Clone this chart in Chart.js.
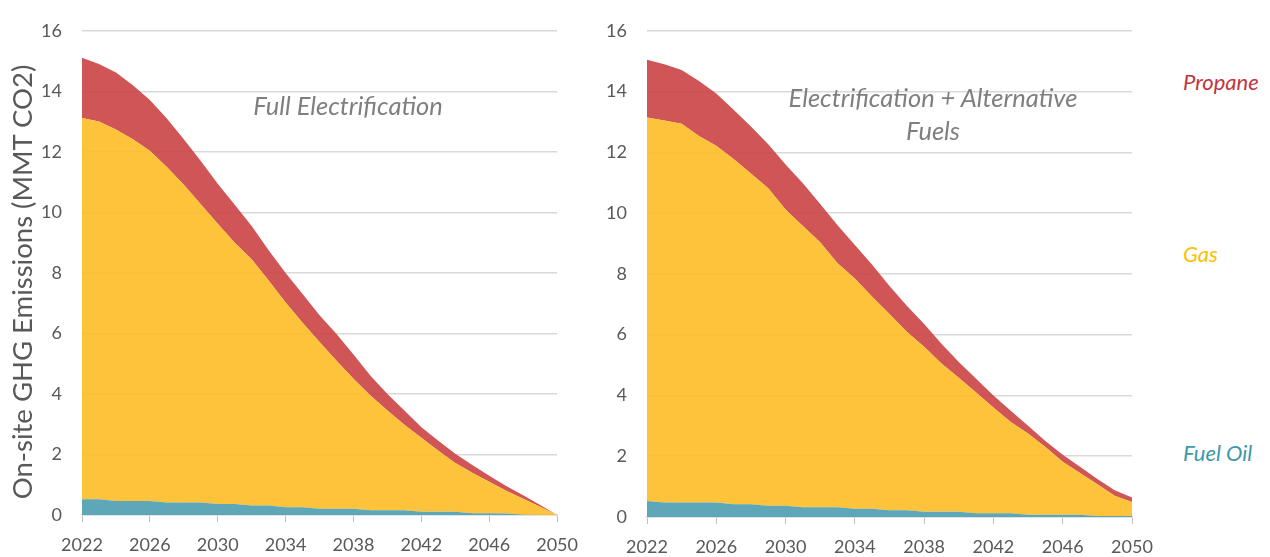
<!DOCTYPE html>
<html>
<head>
<meta charset="utf-8">
<script src="https://cdn.jsdelivr.net/npm/chart.js@4.4.0/dist/chart.umd.min.js"></script>
<style>
    body { margin: 0; width: 1270px; height: 557px; background: #fff; position: relative; overflow: hidden; font-family: Lato, "Open Sans", sans-serif; }
    .box { position: absolute; top: 0; height: 557px; }
    #leftBox { left: 0; width: 590px; }
    #rightBox { left: 590px; width: 580px; }
    .note { position: absolute; font-style: italic; color: #7f7f7f; font-size: 25.5px; line-height: 33px; text-align: center; }
    .lbl { position: absolute; left: 1183px; font-style: italic; font-size: 22px; line-height: 24px; }
    #yTitle { position: absolute; left: -208px; top: 266px; width: 460px; height: 32px; line-height: 32px;
              text-align: center; font-size: 27.5px; color: #595959; transform: rotate(-90deg); white-space: nowrap; }
</style>
</head>
<body>
<div class="box" id="leftBox"><canvas id="leftChart" width="590" height="557"></canvas></div>
<div class="box" id="rightBox"><canvas id="rightChart" width="580" height="557"></canvas></div>

<div id="yTitle">On-site GHG Emissions (MMT CO2)</div>
<div class="note" style="left:198px; top:89px; width:300px;">Full Electrification</div>
<div class="note" style="left:733px; top:81px; width:400px;">Electrification + Alternative<br>Fuels</div>

<div class="lbl" style="top:70px; color:#c0353c;">Propane</div>
<div class="lbl" style="top:242px; color:#ffc000;">Gas</div>
<div class="lbl" style="top:441px; color:#3e98ab;">Fuel Oil</div>

<script>
// Años (eje X)
const years = [];
for (let y = 2022; y <= 2050; y++) years.push(String(y));

// Escenario: Full Electrification (MMT CO2)
const fullFuelOil = [0.52, 0.52, 0.46, 0.46, 0.46, 0.41, 0.41, 0.41, 0.36, 0.36, 0.31, 0.31, 0.26, 0.26, 0.21,
    0.21, 0.21, 0.16, 0.16, 0.16, 0.11, 0.11, 0.11, 0.06, 0.06, 0.05, 0.01, 0, 0];
const fullGas = [12.60, 12.48, 12.28, 11.96, 11.58, 11.09, 10.50, 9.86, 9.26, 8.64, 8.14, 7.44, 6.76, 6.09, 5.51,
    4.89, 4.29, 3.79, 3.29, 2.82, 2.44, 2.01, 1.61, 1.34, 1.04, 0.75, 0.53, 0.27, 0];
const fullPropane = [1.99, 1.90, 1.88, 1.78, 1.67, 1.60, 1.51, 1.43, 1.33, 1.25, 1.10, 1.00, 0.98, 0.95, 0.88,
    0.88, 0.80, 0.65, 0.55, 0.47, 0.35, 0.33, 0.30, 0.25, 0.20, 0.16, 0.11, 0.06, 0];

// Escenario: Electrification + Alternative Fuels (MMT CO2)
const altFuelOil = [0.53, 0.48, 0.48, 0.48, 0.48, 0.42, 0.42, 0.37, 0.37, 0.32, 0.32, 0.32, 0.27, 0.27, 0.22,
    0.22, 0.17, 0.17, 0.17, 0.12, 0.12, 0.12, 0.07, 0.07, 0.07, 0.07, 0.03, 0.03, 0.03];
const altGas = [12.62, 12.57, 12.46, 12.06, 11.74, 11.36, 10.88, 10.45, 9.75, 9.26, 8.72, 8.03, 7.58, 6.98, 6.46,
    5.88, 5.43, 4.88, 4.41, 3.98, 3.48, 3.01, 2.68, 2.23, 1.75, 1.38, 1.05, 0.67, 0.46];
const altPropane = [1.90, 1.85, 1.77, 1.81, 1.72, 1.62, 1.55, 1.45, 1.48, 1.40, 1.26, 1.25, 1.10, 1.05, 0.92,
    0.85, 0.75, 0.65, 0.52, 0.45, 0.40, 0.37, 0.25, 0.20, 0.23, 0.20, 0.17, 0.18, 0.15];

// Eje Y
const yMin = 0;
const yMax = 16;
const yStep = 2;

const tickColor = '#595959';
const gridColor = '#d9d9d9';

function buildChart(canvasId, fuelOil, gas, propane, box) {
    const ctx = document.getElementById(canvasId);
    return new Chart(ctx, {
        type: 'line',
        data: {
            labels: years,
            datasets: [
                { label: 'Fuel Oil', data: fuelOil, backgroundColor: 'rgba(77,157,176,0.9)', fill: 'origin' },
                { label: 'Gas', data: gas, backgroundColor: 'rgba(253,189,38,0.9)', fill: '-1' },
                { label: 'Propane', data: propane, backgroundColor: 'rgba(202,66,69,0.9)', fill: '-1' }
            ].map(ds => Object.assign(ds, { borderWidth: 0, pointRadius: 0, tension: 0 }))
        },
        options: {
            responsive: false,
            animation: false,
            layout: { padding: { left: 0, top: box.top, right: box.right, bottom: 0 } },
            plugins: { legend: { display: false }, tooltip: { enabled: false } },
            scales: {
                x: {
                    offset: false,
                    grid: {
                        drawOnChartArea: false,
                        drawTicks: true,
                        tickLength: 7,
                        color: c => (c.index % 4 === 0 ? '#bfbfbf' : 'rgba(0,0,0,0)')
                    },
                    border: { display: true, color: gridColor, width: 1.5 },
                    ticks: {
                        autoSkip: false,
                        maxRotation: 0,
                        minRotation: 0,
                        padding: 12,
                        color: tickColor,
                        font: { family: 'Lato', size: 18 },
                        callback: function (v, i) { return i % 4 === 0 ? this.getLabelForValue(v) : ''; }
                    },
                    afterFit: s => { s.height = box.xHeight; }
                },
                y: {
                    stacked: true,
                    min: yMin,
                    max: yMax,
                    grid: { color: gridColor, lineWidth: 1.5, drawTicks: false },
                    border: { display: false },
                    ticks: {
                        stepSize: yStep,
                        padding: box.tickPad,
                        color: tickColor,
                        font: { family: 'Lato', size: 18 }
                    },
                    afterFit: s => { s.width = box.yWidth; }
                }
            }
        }
    });
}

buildChart('leftChart', fullFuelOil, fullGas, fullPropane,
    { top: 19, right: 22, xHeight: 42, yWidth: 82, tickPad: 20 });
buildChart('rightChart', altFuelOil, altGas, altPropane,
    { top: 21, right: 38, xHeight: 40, yWidth: 57, tickPad: 20 });
</script>
</body>
</html>
